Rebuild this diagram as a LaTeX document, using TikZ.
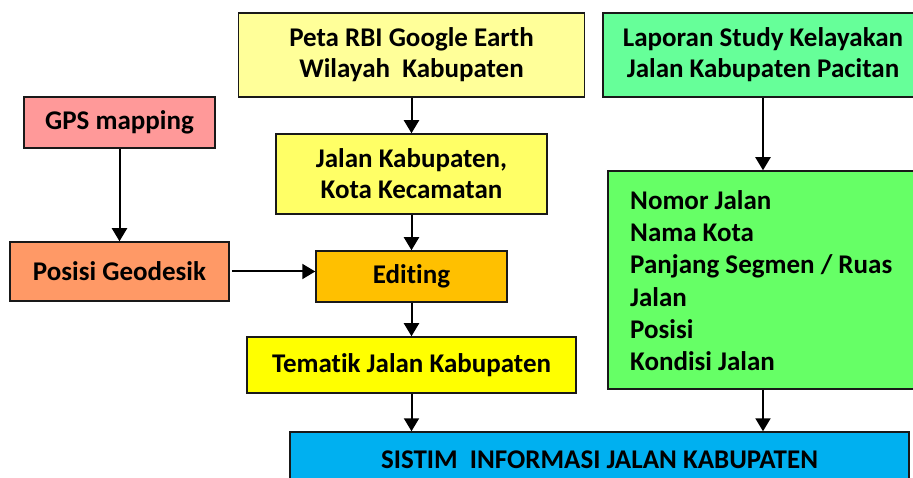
\documentclass[tikz,border=0pt]{standalone}
\usepackage{fontspec}
\setmainfont{Carlito}[Ligatures={NoCommon}]
\usetikzlibrary{arrows.meta}
\definecolor{cPeta}{HTML}{FFFF99}
\definecolor{cJalan}{HTML}{FFFF66}
\definecolor{cGps}{HTML}{FF9999}
\definecolor{cPosisi}{HTML}{FF9966}
\definecolor{cEdit}{HTML}{FFC000}
\definecolor{cTema}{HTML}{FFFF00}
\definecolor{cLapor}{HTML}{66FF99}
\definecolor{cNomor}{HTML}{66FF66}
\definecolor{cSistim}{HTML}{00B0F0}
\begin{document}
\begin{tikzpicture}[x=1pt,y=-1pt,
  box/.style={draw=black!90, line width=1.5pt, rectangle, inner sep=0pt, align=center,
    font=\fontsize{27}{31}\selectfont\bfseries},
  arr/.style={draw=black, line width=2pt, -{Triangle[width=15pt,length=13pt]}},
  txt/.style={inner sep=0pt, align=left, font=\fontsize{27}{32.3}\selectfont\bfseries}]
\useasboundingbox (0,0) rectangle (913,478);
\clip (0,0) rectangle (913,478);
\node[box, fill=cPeta, minimum width=346pt, minimum height=84pt] (peta) at (411.5,55) {Peta RBI Google Earth\\Wilayah\ \ Kabupaten};
\node[box, fill=cGps, minimum width=191pt, minimum height=51pt] (gps) at (119.5,122.5) {GPS mapping};
\node[box, fill=cJalan, minimum width=271pt, minimum height=80pt] (jalan) at (411.5,174) {Jalan Kabupaten,\\Kota Kecamatan};
\node[box, fill=cLapor, minimum width=320pt, minimum height=84pt] (lapor) at (763,55) {Laporan Study Kelayakan\\Jalan Kabupaten Pacitan};
\node[box, fill=cNomor, minimum width=310pt, minimum height=218pt] (nomor) at (763,280) {};
\node[txt, anchor=west] (nomortext) at (630,280.5) {Nomor Jalan\\Nama Kota\\Panjang Segmen / Ruas\\Jalan\\Posisi\\Kondisi Jalan};
\node[box, fill=cPosisi, minimum width=219pt, minimum height=59pt] (posisi) at (119.5,271.5) {Posisi Geodesik};
\node[box, fill=cEdit, minimum width=191pt, minimum height=51pt] (edit) at (411.5,276.5) {Editing};
\node[box, fill=cTema, minimum width=329pt, minimum height=56pt] (tema) at (411.5,365) {Tematik Jalan Kabupaten};
\node[box, fill=cSistim, minimum width=619pt, minimum height=56pt] (sistim) at (599.5,460) {SISTIM\ \ INFORMASI JALAN KABUPATEN};
\draw[arr] (peta.south) -- (jalan.north);
\draw[arr] (jalan.south) -- (edit.north);
\draw[arr] (edit.south) -- (tema.north);
\draw[arr] (tema.south) -- (tema.south |- sistim.north);
\draw[arr] (gps.south) -- (posisi.north);
\draw[arr, shorten <=2pt] (posisi.east) -- (posisi.east -| edit.west);
\draw[arr] (lapor.south) -- (nomor.north);
\draw[arr] (nomor.south) -- (nomor.south |- sistim.north);
\end{tikzpicture}
\end{document}
